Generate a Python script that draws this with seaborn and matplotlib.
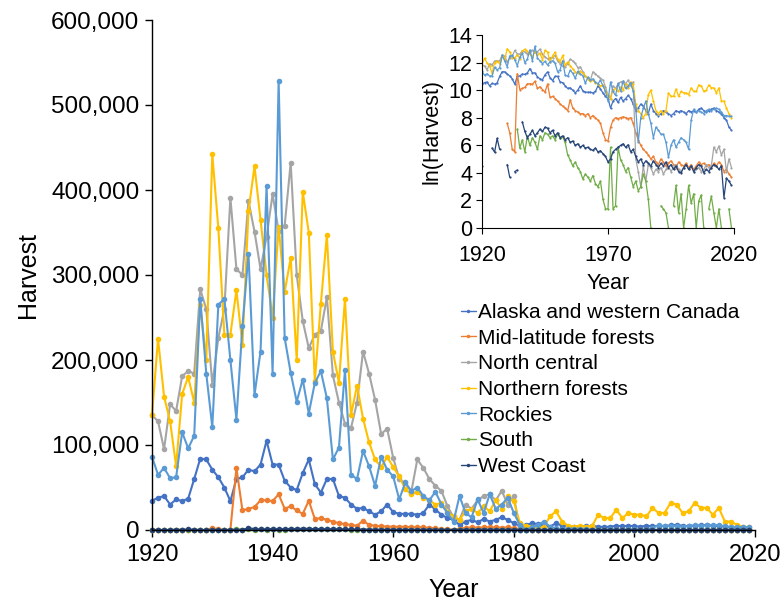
import numpy as np
import pandas as pd
import matplotlib
matplotlib.use("Agg")
import matplotlib.pyplot as plt
from matplotlib.lines import Line2D
from matplotlib.ticker import FuncFormatter
import seaborn as sns

years = list(range(1920, 2020))

alaska = [34500, 38000, 40000, 30000, 36000, 34000, 37000, 60000, 84000, 83000,
          71000, 62000, 50000, 34000, 60000, 62000, 71000, 69000, 77000, 105000,
          77000, 77000, 58000, 50000, 47000, 67000, 83000, 54000, 44000, 60000,
          60000, 40000, 38000, 30000, 25000, 26000, 22000, 18000, 22000, 30000,
          21000, 19000, 19000, 19000, 18000, 20000, 30000, 24000, 18000, 14000,
          12000, 6000, 10000, 12000, 9000, 13000, 10000, 12000, 15000, 12000,
          8000, 5000, 6000, 8000, 7000, 5000, 4000, 8000, 5000, 4000,
          3500, 4000, 5000, 4500, 4000, 3500, 4000, 5000, 4500, 5000,
          4500, 4000, 5000, 4500, 5000, 4500, 5500, 6000, 5000, 4500,
          5000, 5500, 6000, 5000, 4500, 4000, 3000, 2500, 1500, 1200]

mid_latitude = [0, 0, 0, 0, 0, 0, 0, 0, 0, 0,
                2000, 1000, 300, 250, 73000, 23000, 25000, 27000, 35000, 35000,
                34000, 42000, 25000, 28000, 23000, 19000, 34500, 13000, 14000, 12000,
                10000, 8000, 7000, 6000, 5000, 11000, 6000, 5000, 4500, 4000,
                4000, 3500, 4000, 3000, 3500, 3000, 2500, 2000, 1000, 600,
                550, 1500, 2500, 3000, 2800, 3000, 3200, 3000, 2800, 3000,
                2000, 1000, 600, 400, 300, 250, 200, 150, 180, 120,
                100, 150, 120, 90, 110, 130, 100, 80, 120, 100,
                90, 110, 80, 100, 70, 90, 120, 100, 110, 90,
                100, 80, 110, 90, 120, 100, 60, 70, 50, 40]

north_central = [135000, 128000, 95000, 148000, 140000, 181000, 187000, 184000, 283000, 260000,
                 171000, 226000, 260000, 391000, 307000, 300000, 387000, 351000, 307000, 345000,
                 395000, 352000, 358000, 432000, 300000, 246000, 214000, 230000, 234000, 274000,
                 182000, 150000, 125000, 120000, 150000, 210000, 184000, 153000, 113000, 119000,
                 85000, 60000, 55000, 45000, 83000, 73000, 60000, 52000, 46000, 28000,
                 15000, 12000, 30000, 25000, 35000, 40000, 42000, 35000, 46000, 30000,
                 40000, 150, 60, 20, 90, 30, 100, 80, 50, 70,
                 60, 80, 50, 70, 90, 60, 80, 100, 70, 60,
                 80, 100, 70, 90, 60, 70, 80, 60, 70, 100,
                 80, 90, 350, 250, 380, 200, 300, 60, 150, 80]

northern_forests = [135000, 225000, 157000, 128000, 75000, 160000, 180000, 150000, 265000, 200000,
                    442000, 355000, 230000, 230000, 282000, 218000, 375000, 428000, 365000, 300000,
                    250000, 357000, 280000, 320000, 200000, 398000, 350000, 175000, 266000, 347000,
                    210000, 173000, 272000, 135000, 170000, 131000, 103000, 83000, 74000, 86000,
                    74000, 63000, 48000, 42000, 45000, 38000, 35000, 30000, 32000, 21000,
                    16000, 12000, 22000, 25000, 20000, 28000, 22000, 35000, 25000, 40000,
                    34000, 8000, 5000, 4000, 3000, 4000, 16000, 22000, 10000, 5000,
                    4000, 5000, 4000, 5000, 18000, 14000, 14000, 24000, 14000, 20000,
                    18000, 18000, 16000, 26000, 20000, 20000, 32000, 30000, 20000, 22000,
                    32000, 26000, 26000, 18000, 26000, 10000, 10000, 6000, 4000, 3000]

rockies = [86000, 65000, 73000, 61000, 62000, 115000, 96000, 111000, 272000, 184000,
           121000, 265000, 272000, 200000, 130000, 240000, 325000, 159000, 210000, 405000,
           184000, 528000, 226000, 185000, 151000, 177000, 137000, 173000, 187000, 155000,
           83000, 97000, 188000, 65000, 60000, 93000, 75000, 52000, 86000, 71000,
           63000, 36000, 56000, 46000, 50000, 40000, 35000, 45000, 30000, 20000,
           10000, 40000, 20000, 15000, 36000, 20000, 42000, 25000, 30000, 38000,
           20000, 6000, 500, 3000, 6000, 10000, 4000, 2000, 700, 1500,
           1200, 900, 900, 500, 170, 400, 600, 350, 500, 700,
           600, 500, 300, 2500, 5500, 4500, 5000, 4500, 4000, 5000,
           5500, 5000, 5500, 6000, 5500, 4500, 3500, 3500, 3300, 3300]

south = [0, 0, 0, 0, 0, 0, 0, 0, 0, 0,
         0, 0, 0, 0, 1300, 330, 600, 250, 800, 400,
         700, 500, 300, 800, 600, 1000, 900, 700, 800, 600,
         900, 700, 750, 500, 200, 140, 90, 120, 80, 60,
         35, 50, 40, 30, 45, 25, 20, 30, 8, 4,
         4, 350, 4, 5, 350, 140, 100, 60, 80, 40,
         20, 30, 15, 20, 50, 30, 8, 1, 0, 0,
         0, 5, 4, 3, 1, 0, 5, 22, 3, 12,
         1, 4, 22, 6, 12, 1, 7, 11, 1, 0,
         4, 10, 3, 1, 4, 1, 0, 0, 4, 1]

west_coast = [90, 0, 0, 0, 330, 245, 665, 300, 0, 0,
              100, 40, 0, 60, 67, 0, 2200, 1100, 700, 900,
              1200, 800, 1000, 1300, 1100, 1500, 1400, 1000, 1200, 800,
              1000, 700, 800, 600, 700, 500, 550, 400, 450, 350,
              400, 330, 350, 300, 280, 330, 250, 270, 220, 180,
              120, 150, 250, 300, 350, 400, 450, 350, 420, 250,
              300, 180, 120, 150, 100, 130, 110, 90, 130, 100,
              80, 110, 90, 120, 80, 100, 70, 90, 60, 55,
              80, 100, 70, 90, 60, 80, 100, 90, 55, 70,
              60, 80, 100, 90, 70, 90, 9, 37, 30, 22]

regions = ["Alaska and western Canada", "Mid-latitude forests", "North central",
           "Northern forests", "Rockies", "South", "West Coast"]
series = [alaska, mid_latitude, north_central, northern_forests, rockies, south, west_coast]
colors = ["#4472C4", "#ED7D31", "#A5A5A5", "#FFC000", "#5B9BD5", "#70AD47", "#264478"]

sns.set_style("ticks")
plt.rcParams["font.family"] = ["Liberation Sans", "DejaVu Sans"]
plt.rcParams["text.color"] = "black"
plt.rcParams["axes.labelcolor"] = "black"
plt.rcParams["xtick.color"] = "black"
plt.rcParams["ytick.color"] = "black"

W, H = 783, 603
fig = plt.figure(figsize=(W / 100, H / 100), dpi=100)
fig.patch.set_facecolor("white")

# ---------- main axes ----------
ax = fig.add_axes([152 / W, 1 - 530 / H, (755 - 152) / W, (530 - 20) / H])
for name, vals, col in zip(regions, series, colors):
    sns.lineplot(x=years, y=vals, ax=ax, color=col, marker="o", markersize=4.0,
                 markeredgewidth=0, linewidth=1.5, legend=False, clip_on=False)
ax.set_xlim(1920, 2020)
ax.set_ylim(0, 600000)
ax.set_xticks([1920, 1940, 1960, 1980, 2000, 2020])
ax.set_yticks(range(0, 600001, 100000))
ax.yaxis.set_major_formatter(FuncFormatter(lambda v, p: f"{int(v):,}"))
ax.tick_params(axis="both", labelsize=17.5, length=5, width=1, color="black",
               labelcolor="black")
ax.tick_params(axis="x", labelsize=17, pad=5)
ax.tick_params(axis="y", pad=4)
ax.set_xlabel("Year", fontsize=18, labelpad=9)
ax.set_ylabel("Harvest", fontsize=18, labelpad=8)
sns.despine(ax=ax)
for s in ["left", "bottom"]:
    ax.spines[s].set_color("black")
    ax.spines[s].set_linewidth(1.0)

# ---------- inset axes (natural log) ----------
ax2 = fig.add_axes([482 / W, 1 - 228 / H, (734 - 482) / W, (228 - 35) / H])
yrs = np.array(years)
for name, vals, col in zip(regions, series, colors):
    arr = np.array(vals, dtype=float)
    lv = np.where(arr > 0, np.log(np.where(arr > 0, arr, 1)), np.nan)
    ax2.plot(yrs, lv, color=col, marker="o", markersize=1.6, markeredgewidth=0,
             linewidth=0.9)
ax2.set_xlim(1920, 2020)
ax2.set_ylim(0, 14)
ax2.set_xticks([1920, 1970, 2020])
ax2.set_yticks(range(0, 15, 2))
ax2.tick_params(axis="both", labelsize=15.5, length=4, width=0.8, color="black",
                labelcolor="black")
ax2.tick_params(axis="x", pad=8)
ax2.tick_params(axis="y", pad=3)
ax2.set_xlabel("Year", fontsize=15.5, labelpad=5)
ax2.set_ylabel("ln(Harvest)", fontsize=15.5, labelpad=4)
sns.despine(ax=ax2)
for s in ["left", "bottom"]:
    ax2.spines[s].set_color("black")
    ax2.spines[s].set_linewidth(0.8)

# ---------- legend ----------
handles = [Line2D([0], [0], color=c, lw=1.0, marker="o", markersize=2.5,
                  markeredgewidth=0) for c in colors]
fig.legend(handles, regions, loc="upper left", bbox_to_anchor=(461 / W, 1 - 303 / H),
           frameon=False, fontsize=15, handlelength=0.7, handletextpad=0.12,
           labelspacing=0.32, borderaxespad=0, borderpad=0)

fig.savefig("out.png", dpi=100, facecolor="white")
